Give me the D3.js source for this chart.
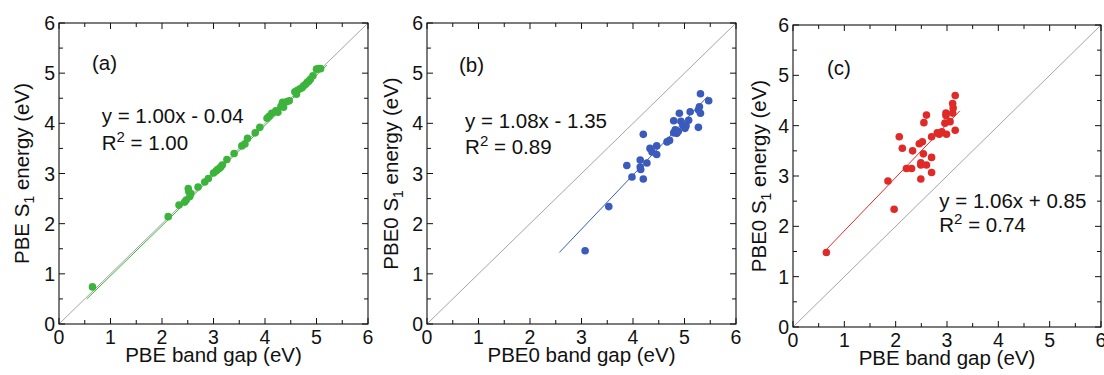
<!DOCTYPE html>
<html>
<head>
<meta charset="utf-8">
<script src="https://cdn.jsdelivr.net/npm/d3@7"></script>
<style>
  body { margin: 0; background: #fff; }
  text { font-family: "Liberation Sans", Arial, sans-serif; fill: #111; }
</style>
</head>
<body>
<div id="chart"></div>
<script>
// (a) PBE band gap vs PBE S1 energy
const gapA = [0.65, 2.12, 2.33, 2.44, 2.47, 2.51, 2.52, 2.54, 2.56, 2.70, 2.83, 2.90, 3.00, 3.05, 3.08, 3.11, 3.14, 3.17,
  3.26, 3.40, 3.55, 3.61, 3.66, 3.81, 3.90, 4.04, 4.08, 4.13, 4.21, 4.25, 4.31, 4.34, 4.36, 4.42, 4.47,
  4.58, 4.61, 4.63, 4.68, 4.72, 4.75, 4.79, 4.82, 4.85, 4.88, 4.93, 5.00, 5.04, 5.08];
const s1A = [0.74, 2.14, 2.37, 2.43, 2.47, 2.70, 2.64, 2.54, 2.60, 2.73, 2.83, 2.90, 3.01, 3.05, 3.08, 3.10, 3.13, 3.17,
  3.28, 3.40, 3.55, 3.59, 3.70, 3.81, 3.92, 4.10, 4.14, 4.20, 4.25, 4.22, 4.34, 4.42, 4.32, 4.43, 4.45,
  4.63, 4.58, 4.66, 4.69, 4.71, 4.75, 4.78, 4.82, 4.84, 4.88, 4.95, 5.08, 5.09, 5.09];

// (b) PBE0 band gap vs PBE0 S1 energy
const gapB = [3.07, 3.53, 3.88, 3.98, 4.20, 4.20, 4.14, 4.14, 4.15, 4.27, 4.33, 4.37, 4.46, 4.46, 4.66, 4.71,
  4.79, 4.82, 4.85, 4.88, 4.79, 4.90, 4.93, 4.97, 5.01, 5.03, 5.08, 5.11, 5.27, 5.27, 5.29, 5.31, 5.31, 5.47];
const s1B = [1.46, 2.34, 3.16, 2.93, 3.78, 2.89, 3.27, 3.13, 3.08, 3.21, 3.50, 3.43, 3.55, 3.38, 3.63, 3.66,
  3.81, 3.87, 3.80, 3.84, 4.05, 4.20, 4.04, 3.96, 3.90, 3.95, 4.06, 4.23, 3.92, 4.27, 4.33, 4.59, 4.20, 4.45];

// (c) PBE band gap vs PBE0 S1 energy
const gapC = [0.65, 1.85, 1.97, 2.07, 2.13, 2.21, 2.31, 2.33, 2.46, 2.52, 2.49, 2.54, 2.49, 2.60, 2.49, 2.55,
  2.60, 2.70, 2.70, 2.70, 2.81, 2.85, 2.90, 2.99, 2.96, 2.98, 2.98, 3.06, 3.11, 3.12, 3.11, 3.16, 3.16];
const s1C = [1.48, 2.90, 2.34, 3.78, 3.55, 3.15, 3.15, 3.50, 3.64, 3.68, 3.26, 3.44, 3.22, 3.22, 2.94, 4.06,
  4.21, 3.37, 3.07, 3.78, 3.86, 3.83, 3.88, 3.83, 4.05, 4.25, 4.20, 4.08, 4.25, 4.35, 4.44, 4.60, 3.91];

// linear fits: [slope, intercept], drawn range
const fitA = [1.00, -0.04], fitRangeA = [0.54, 5.2];
const fitB = [1.08, -1.35], fitRangeB = [2.57, 5.45];
const fitC = [1.06, 0.85], fitRangeC = [0.65, 3.25];

const ticks = [0, 1, 2, 3, 4, 5, 6];
const minorTicks = d3.range(0, 6.01, 0.5);

const panels = [
  { gap: gapA, s1: s1A, fit: fitA, fitRange: fitRangeA, color: "#3cb43c",
    box: { l: 59, r: 368, t: 23, b: 324 }, tag: "(a)", tagPos: [0.64, 5.06],
    eq: "y = 1.00x - 0.04", r2: "1.00", eqPos: [0.83, 4.0], r2y: 3.47,
    xLabel: "PBE band gap (eV)", yLabel: "PBE", yLabelX: 29 },
  { gap: gapB, s1: s1B, fit: fitB, fitRange: fitRangeB, color: "#3a5bbb",
    box: { l: 427, r: 736, t: 23, b: 324 }, tag: "(b)", tagPos: [0.62, 5.02],
    eq: "y = 1.08x - 1.35", r2: "0.89", eqPos: [0.74, 3.9], r2y: 3.39,
    xLabel: "PBE0 band gap (eV)", yLabel: "PBE0", yLabelX: 398 },
  { gap: gapC, s1: s1C, fit: fitC, fitRange: fitRangeC, color: "#e02a28",
    box: { l: 793, r: 1101, t: 25, b: 327 }, tag: "(c)", tagPos: [0.66, 5.0],
    eq: "y = 1.06x + 0.85", r2: "0.74", eqPos: [2.85, 2.37], r2y: 1.89,
    xLabel: "PBE band gap (eV)", yLabel: "PBE0", yLabelX: 766 }
];

const svg = d3.select("#chart").append("svg")
  .attr("width", 1104).attr("height", 375);

panels.forEach(p => {
  const x = d3.scaleLinear().domain([0, 6]).range([p.box.l, p.box.r]);
  const y = d3.scaleLinear().domain([0, 6]).range([p.box.b, p.box.t]);
  const g = svg.append("g");

  // y = x reference line
  g.append("line")
    .attr("x1", x(0)).attr("y1", y(0)).attr("x2", x(6)).attr("y2", y(6))
    .attr("stroke", "#9a9a9a").attr("stroke-width", 0.9);

  // fit line
  const f = v => p.fit[0] * v + p.fit[1];
  g.append("line")
    .attr("x1", x(p.fitRange[0])).attr("y1", y(f(p.fitRange[0])))
    .attr("x2", x(p.fitRange[1])).attr("y2", y(f(p.fitRange[1])))
    .attr("stroke", p.color).attr("stroke-width", 1);

  // points
  g.selectAll("circle.pt")
    .data(p.gap.map((v, i) => [v, p.s1[i]]))
    .join("circle")
    .attr("class", "pt")
    .attr("cx", d => x(d[0]))
    .attr("cy", d => y(d[1]))
    .attr("r", 3.8)
    .attr("fill", p.color);

  // frame
  g.append("rect")
    .attr("x", p.box.l).attr("y", p.box.t)
    .attr("width", p.box.r - p.box.l).attr("height", p.box.b - p.box.t)
    .attr("fill", "none").attr("stroke", "#111").attr("stroke-width", 1.1);

  // inward ticks on all four sides
  minorTicks.forEach(v => {
    const len = Number.isInteger(v) ? 6 : 4;
    g.append("line").attr("x1", x(v)).attr("x2", x(v)).attr("y1", p.box.b).attr("y2", p.box.b - len).attr("stroke", "#111");
    g.append("line").attr("x1", x(v)).attr("x2", x(v)).attr("y1", p.box.t).attr("y2", p.box.t + len).attr("stroke", "#111");
    g.append("line").attr("y1", y(v)).attr("y2", y(v)).attr("x1", p.box.l).attr("x2", p.box.l + len).attr("stroke", "#111");
    g.append("line").attr("y1", y(v)).attr("y2", y(v)).attr("x1", p.box.r).attr("x2", p.box.r - len).attr("stroke", "#111");
  });

  // tick labels
  g.selectAll("text.xt").data(ticks).join("text")
    .attr("class", "xt")
    .attr("x", d => x(d)).attr("y", p.box.b + 20)
    .attr("text-anchor", "middle").attr("font-size", 19.5)
    .text(d => d);
  g.selectAll("text.yt").data(ticks).join("text")
    .attr("class", "yt")
    .attr("x", p.box.l - 4).attr("y", d => y(d) + 7)
    .attr("text-anchor", "end").attr("font-size", 19.5)
    .text(d => d);

  // axis labels
  g.append("text")
    .attr("x", (p.box.l + p.box.r) / 2).attr("y", p.box.b + 38)
    .attr("text-anchor", "middle").attr("font-size", 20.5)
    .text(p.xLabel);

  const yl = g.append("text")
    .attr("transform", `translate(${p.yLabelX},${(p.box.t + p.box.b) / 2}) rotate(-90)`)
    .attr("text-anchor", "middle").attr("font-size", 20.5);
  yl.append("tspan").text(p.yLabel + " S");
  yl.append("tspan").attr("font-size", 14).attr("dy", 5).text("1");
  yl.append("tspan").attr("dy", -5).text(" energy (eV)");

  // panel tag and fit equation
  g.append("text")
    .attr("x", x(p.tagPos[0])).attr("y", y(p.tagPos[1]))
    .attr("font-size", 20.5).text(p.tag);

  g.append("text")
    .attr("x", x(p.eqPos[0])).attr("y", y(p.eqPos[1]))
    .attr("font-size", 20.5).text(p.eq);

  const r2 = g.append("text")
    .attr("x", x(p.eqPos[0])).attr("y", y(p.r2y))
    .attr("font-size", 20.5);
  r2.append("tspan").text("R");
  r2.append("tspan").attr("font-size", 15).attr("dy", -8).text("2");
  r2.append("tspan").attr("dy", 8).text(" = " + p.r2);
});
</script>
</body>
</html>
